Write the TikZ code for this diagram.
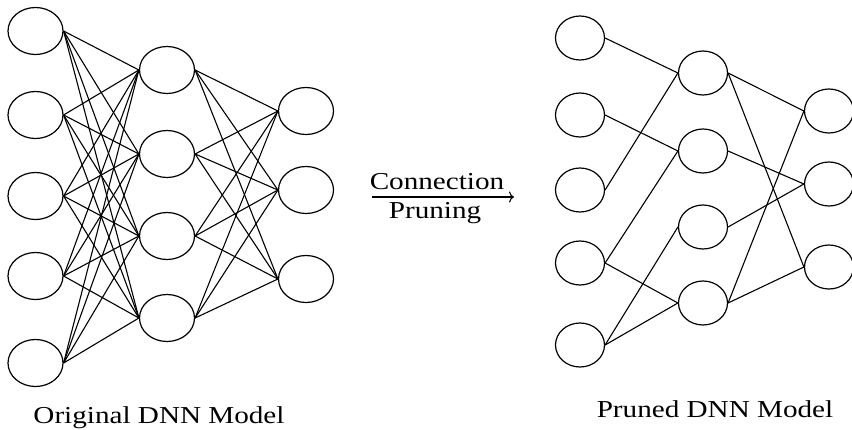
\documentclass[tikz,border=0pt]{standalone}
\usepackage{fontspec}
\setmainfont{Liberation Serif}[FakeStretch=1.2]
\usetikzlibrary{shapes.geometric,arrows.meta}
\begin{document}
\begin{tikzpicture}[x=1pt,y=-1pt,
  neuron/.style={draw,ellipse,line width=1.2pt,inner sep=0pt},
  bigneuron/.style={neuron,minimum width=55pt,minimum height=47pt},
  smallneuron/.style={neuron,minimum width=49pt,minimum height=44pt},
  link/.style={line width=1.1pt},
  caption/.style={font=\fontsize{24.3}{29}\selectfont,anchor=base,inner sep=0pt}]
\useasboundingbox (0,0) rectangle (852,429);
\fill[white] (0,0) rectangle (852,429);

% original network: 5 inputs, 4 hidden, 3 outputs, fully connected
\foreach \i/\y in {1/31,2/115,3/196,4/276,5/363}
  \node[bigneuron] (oi\i) at (35.5,\y) {};
\foreach \j/\y in {1/70,2/154,3/236,4/318}
  \node[bigneuron] (oh\j) at (167,\y) {};
\foreach \k/\y in {1/111,2/190,3/279}
  \node[bigneuron] (oo\k) at (306,\y) {};
\foreach \i in {1,...,5}
  \foreach \j in {1,...,4}
    \draw[link] (oi\i.east) -- (oh\j.west);
\foreach \j in {1,...,4}
  \foreach \k in {1,...,3}
    \draw[link] (oh\j.east) -- (oo\k.west);

% pruned network
\foreach \i/\y in {1/38,2/115,3/190,4/263,5/345}
  \node[smallneuron] (pi\i) at (580,\y) {};
\foreach \j/\y in {1/73,2/151,3/227,4/303}
  \node[smallneuron] (ph\j) at (703,\y) {};
\foreach \k/\y in {1/111,2/184,3/267}
  \node[smallneuron] (po\k) at (829,\y) {};
\foreach \a/\b in {1/1,2/2,3/1,4/2,4/4,5/3,5/4}
  \draw[link] (pi\a.east) -- (ph\b.west);
\foreach \a/\b in {1/1,1/3,2/2,3/2,4/1,4/3}
  \draw[link] (ph\a.east) -- (po\b.west);

% pruning arrow
\coordinate (arrowstart) at (372,197);
\coordinate (arrowend) at (514,197);
\draw[line width=1.1pt,-{To[length=5pt,width=11pt]}] (arrowstart) -- (arrowend);
\node[caption] (conn) at (437,189) {Connection};
\node[caption] (prun) at (435,218) {Pruning};

% captions
\node[caption] (origcap) at (159,423) {Original DNN Model};
\node[caption] (prunedcap) at (715,417) {Pruned DNN Model};
\end{tikzpicture}
\end{document}
